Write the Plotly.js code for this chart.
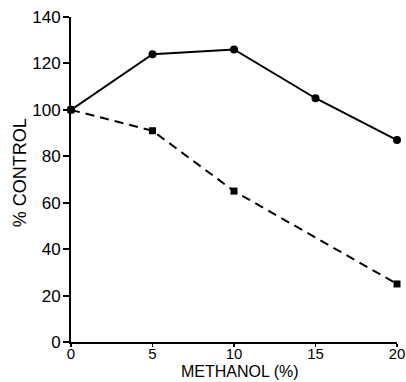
<!DOCTYPE html>
<html>
<head>
<meta charset="utf-8">
<script src="https://cdn.plot.ly/plotly-3.0.1.min.js"></script>
<style>html,body{margin:0;padding:0;background:#fff;}#chart{width:406px;height:382px;}</style>
</head>
<body>
<div id="chart"></div>
<script>
var methanol = [0, 5, 10, 15, 20];
var solidValues = [100, 124, 126, 105, 87];
var dashedX = [0, 5, 10, 20];
var dashedValues = [100, 91, 65, 25];
var xTicks = [0, 5, 10, 15, 20];
var yTicks = [0, 20, 40, 60, 80, 100, 120, 140];

var traces = [
  {
    x: methanol, y: solidValues, mode: 'lines+markers', type: 'scatter',
    line: {color: '#000', width: 2},
    marker: {symbol: 'circle', size: 8, color: '#000'},
    cliponaxis: false, showlegend: false
  },
  {
    x: dashedX, y: dashedValues, mode: 'lines+markers', type: 'scatter',
    line: {color: '#000', width: 2, dash: '9px,6px'},
    marker: {symbol: 'square', size: 7, color: '#000'},
    cliponaxis: false, showlegend: false
  }
];

var fam = 'Liberation Sans, Arial, sans-serif';
var layout = {
  width: 406, height: 382,
  margin: {l: 71, r: 9, t: 17, b: 40},
  paper_bgcolor: '#fff', plot_bgcolor: '#fff',
  font: {family: fam, size: 17, color: '#000'},
  xaxis: {
    range: [0, 20], tickvals: xTicks, ticktext: xTicks.map(String),
    showline: true, linecolor: '#000', linewidth: 2, zeroline: false, showgrid: false,
    ticks: 'outside', ticklen: 3, tickwidth: 1.5, tickcolor: '#000',
    ticklabelstandoff: -6, ticklabeloverflow: 'allow',
    tickfont: {family: fam, size: 15, color: '#000'},
    automargin: false
  },
  yaxis: {
    range: [0, 140], tickvals: yTicks, ticktext: yTicks.map(String),
    showline: true, linecolor: '#000', linewidth: 2, zeroline: false, showgrid: false,
    ticks: 'outside', ticklen: 6, tickwidth: 2, tickcolor: '#000',
    ticklabelstandoff: -1,
    tickfont: {family: fam, size: 17, color: '#000'},
    automargin: false
  },
  annotations: [
    {text: 'METHANOL (%)', xref: 'paper', yref: 'paper', x: 0.519, y: -0.091,
     xanchor: 'center', yanchor: 'middle', showarrow: false,
     font: {family: fam, size: 16, color: '#000'}},
    {text: '% CONTROL', xref: 'paper', yref: 'paper', x: -0.154, y: 0.522,
     xanchor: 'center', yanchor: 'middle', showarrow: false, textangle: -90,
     font: {family: fam, size: 18, color: '#000'}}
  ]
};
Plotly.newPlot('chart', traces, layout, {displayModeBar: false, staticPlot: true});
</script>
</body>
</html>
